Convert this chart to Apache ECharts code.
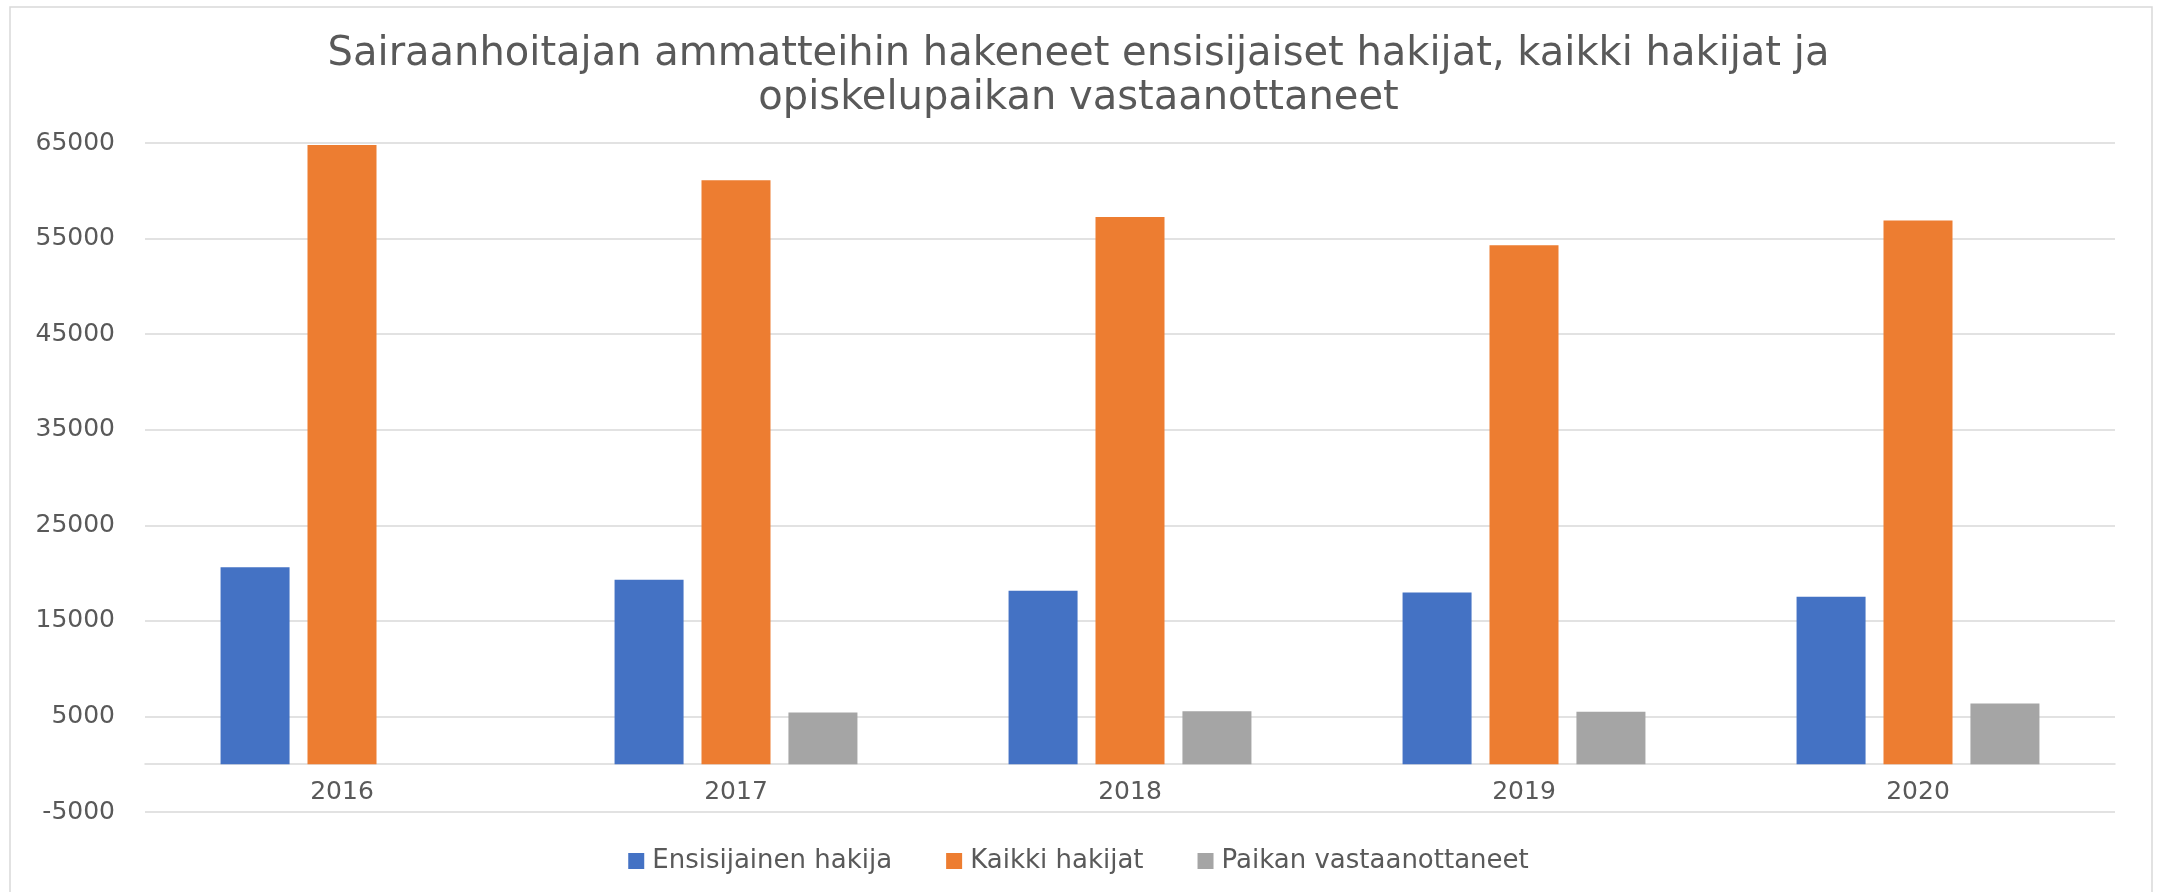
<!DOCTYPE html>
<html>
<head>
<meta charset="utf-8">
<title>Sairaanhoitajan ammatteihin hakeneet</title>
<script src="https://cdn.jsdelivr.net/npm/echarts@6/dist/echarts.min.js"></script>
<style>
  html, body { margin: 0; padding: 0; background: #fff; }
  #main { width: 2157px; height: 892px; }
</style>
</head>
<body>
<div id="main"></div>
<script>
var years = ['2016', '2017', '2018', '2019', '2020'];
var ensisijainen = [20600, 19300, 18150, 17970, 17520];
var kaikki = [64800, 61100, 57250, 54300, 56900];
var paikan = [null, 5400, 5550, 5480, 6350];

var seriesNames = ['Ensisijainen hakija', 'Kaikki hakijat', 'Paikan vastaanottaneet'];
var colors = ['#4472C4', '#ED7D31', '#A5A5A5'];
var textColor = '#595959';
var font = 'DejaVu Sans';

var myChart = echarts.init(document.getElementById('main'));

var option = {
  color: colors,
  animation: false,
  title: {
    text: 'Sairaanhoitajan ammatteihin hakeneet ensisijaiset hakijat, kaikki hakijat ja\nopiskelupaikan vastaanottaneet',
    left: 'center',
    top: 28,
    textStyle: {
      fontFamily: font,
      fontSize: 40,
      fontWeight: 'normal',
      color: textColor,
      lineHeight: 44
    }
  },
  graphic: [{
    type: 'rect',
    shape: { x: 10, y: 7, width: 2142, height: 900 },
    style: { fill: 'none', stroke: '#d9d9d9', lineWidth: 1.5 },
    silent: true
  }],
  legend: {
    top: 843,
    left: 'center',
    itemWidth: 16,
    itemHeight: 16,
    itemGap: 54,
    icon: 'rect',
    textStyle: { fontFamily: font, fontSize: 26, color: textColor, padding: [0, 0, 0, 3] },
    data: seriesNames
  },
  grid: { left: 145, right: 42, top: 143, bottom: 80 },
  xAxis: {
    type: 'category',
    data: years,
    offset: -48,
    axisLine: { onZero: false, lineStyle: { color: '#d9d9d9', width: 1.5 } },
    axisTick: { show: false },
    axisLabel: { margin: 16, fontFamily: font, fontSize: 25, color: textColor }
  },
  yAxis: {
    type: 'value',
    min: -5000,
    max: 65000,
    interval: 10000,
    axisLine: { show: false },
    axisTick: { show: false },
    splitLine: { lineStyle: { color: '#d9d9d9', width: 1.5 } },
    axisLabel: {
      margin: 30,
      fontFamily: font,
      fontSize: 25,
      color: textColor,
      formatter: function (v) { return String(v); }
    }
  },
  series: [
    { name: seriesNames[0], type: 'bar', data: ensisijainen, barWidth: 69, barGap: '26%' },
    { name: seriesNames[1], type: 'bar', data: kaikki, barWidth: 69, barGap: '26%' },
    { name: seriesNames[2], type: 'bar', data: paikan, barWidth: 69, barGap: '26%' }
  ]
};

myChart.setOption(option);
</script>
</body>
</html>
